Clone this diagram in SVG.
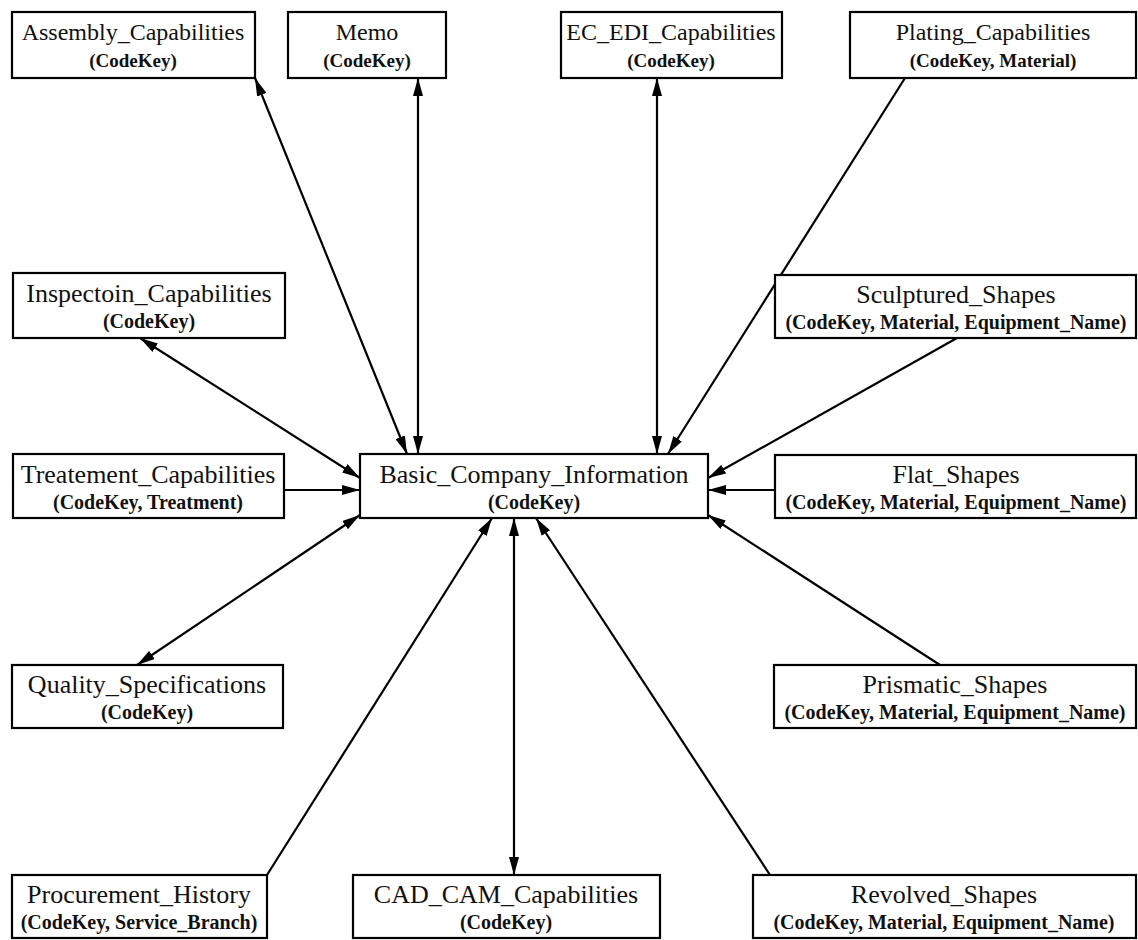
<svg xmlns="http://www.w3.org/2000/svg" width="1138" height="940" viewBox="0 0 1138 940">
<defs>
<marker id="ah" viewBox="0 0 18 10" refX="18" refY="5" markerWidth="18" markerHeight="10" markerUnits="userSpaceOnUse" orient="auto-start-reverse">
<path d="M0,0 L18,5 L0,10 Z" fill="#000"/>
</marker>
</defs>
<style>
.box{fill:#fff;stroke:#000;stroke-width:2.2}
.t{font-family:"Liberation Serif","Times New Roman",serif;font-size:26px;fill:#111;text-anchor:middle}
.s{font-family:"Liberation Serif","Times New Roman",serif;font-size:20px;font-weight:bold;fill:#111;text-anchor:middle}
.top .t{font-size:24px}
.top .s{font-size:19px}
.c{stroke:#000;stroke-width:2.2;fill:none}
.one{marker-end:url(#ah)}
.two{marker-start:url(#ah);marker-end:url(#ah)}
</style>
<rect width="1138" height="940" fill="#fff"/>
<g id="connectors">
<line class="c two" x1="255" y1="78" x2="407" y2="454"/>
<line class="c two" x1="418" y1="78" x2="418" y2="454"/>
<line class="c two" x1="657" y1="78" x2="657" y2="454"/>
<line class="c one" x1="905" y1="78" x2="668" y2="454"/>
<line class="c two" x1="140" y1="338" x2="360" y2="478"/>
<line class="c one" x1="284" y1="490" x2="360" y2="490"/>
<line class="c two" x1="137" y1="665" x2="360" y2="515"/>
<line class="c one" x1="957" y1="338" x2="708" y2="478"/>
<line class="c one" x1="775" y1="490" x2="708" y2="490"/>
<line class="c one" x1="940" y1="665" x2="708" y2="515"/>
<line class="c one" x1="267" y1="875" x2="492" y2="518"/>
<line class="c two" x1="514" y1="518" x2="514" y2="875"/>
<line class="c one" x1="770" y1="875" x2="536" y2="518"/>
</g>
<g id="assembly" class="top"><rect class="box" x="12" y="12" width="243" height="66"/><text class="t" x="133" y="40">Assembly_Capabilities</text><text class="s" x="133" y="67">(CodeKey)</text></g>
<g id="memo" class="top"><rect class="box" x="288" y="12" width="158" height="66"/><text class="t" x="367" y="40">Memo</text><text class="s" x="367" y="67">(CodeKey)</text></g>
<g id="ecedi" class="top"><rect class="box" x="561" y="12" width="221" height="66"/><text class="t" x="671" y="40">EC_EDI_Capabilities</text><text class="s" x="671" y="67">(CodeKey)</text></g>
<g id="plating" class="top"><rect class="box" x="850" y="12" width="286" height="66"/><text class="t" x="993" y="40">Plating_Capabilities</text><text class="s" x="993" y="67">(CodeKey, Material)</text></g>
<g id="inspection"><rect class="box" x="13" y="273" width="272" height="65"/><text class="t" x="149" y="302">Inspectoin_Capabilities</text><text class="s" x="149" y="328">(CodeKey)</text></g>
<g id="sculptured"><rect class="box" x="775" y="275" width="361" height="63"/><text class="t" x="956" y="303">Sculptured_Shapes</text><text class="s" x="956" y="329">(CodeKey, Material, Equipment_Name)</text></g>
<g id="treatement"><rect class="box" x="13" y="454" width="271" height="64"/><text class="t" x="148" y="483">Treatement_Capabilities</text><text class="s" x="148" y="509">(CodeKey, Treatment)</text></g>
<g id="basic"><rect class="box" x="360" y="454" width="348" height="64"/><text class="t" x="534" y="483">Basic_Company_Information</text><text class="s" x="534" y="509">(CodeKey)</text></g>
<g id="flat"><rect class="box" x="775" y="455" width="361" height="63"/><text class="t" x="956" y="483">Flat_Shapes</text><text class="s" x="956" y="509">(CodeKey, Material, Equipment_Name)</text></g>
<g id="quality"><rect class="box" x="12" y="665" width="271" height="63"/><text class="t" x="147" y="693">Quality_Specifications</text><text class="s" x="147" y="719">(CodeKey)</text></g>
<g id="prismatic"><rect class="box" x="774" y="665" width="362" height="63"/><text class="t" x="955" y="693">Prismatic_Shapes</text><text class="s" x="955" y="719">(CodeKey, Material, Equipment_Name)</text></g>
<g id="procurement"><rect class="box" x="12" y="875" width="255" height="63"/><text class="t" x="139" y="903">Procurement_History</text><text class="s" x="139" y="929">(CodeKey, Service_Branch)</text></g>
<g id="cadcam"><rect class="box" x="353" y="875" width="307" height="63"/><text class="t" x="506" y="903">CAD_CAM_Capabilities</text><text class="s" x="506" y="929">(CodeKey)</text></g>
<g id="revolved"><rect class="box" x="753" y="875" width="383" height="63"/><text class="t" x="944" y="903">Revolved_Shapes</text><text class="s" x="944" y="929">(CodeKey, Material, Equipment_Name)</text></g>
</svg>
